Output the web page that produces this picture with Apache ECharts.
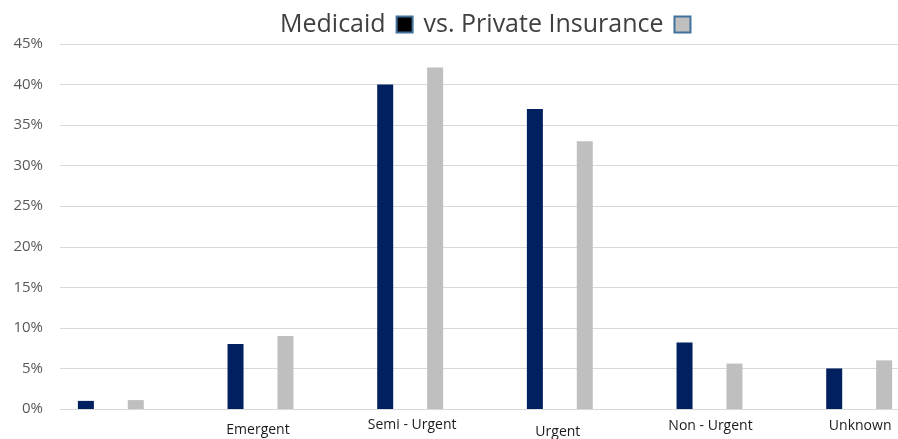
<!DOCTYPE html>
<html><head><meta charset="utf-8">
<script src="https://cdn.jsdelivr.net/npm/echarts@6/dist/echarts.min.js"></script>
<style>html,body{margin:0;padding:0;background:#fff}#c{width:898px;height:439px}</style>
</head><body><div id="c"></div>
<script>
const categories = ['', 'Emergent', 'Semi - Urgent', 'Urgent', 'Non - Urgent', 'Unknown'];
const medicaid = [1, 8, 40, 37, 8.2, 5];
const privateIns = [1.1, 9, 42.1, 33, 5.6, 6];
const yTicks = [0, 5, 10, 15, 20, 25, 30, 35, 40, 45];

const chart = echarts.init(document.getElementById('c'));
const labelStyle = {fontFamily: 'Open Sans', fontSize: 14, color: '#1a1a1a'};
chart.setOption({
  animation: false,
  title: {
    text: 'Medicaid{s|}{m|}{s|}vs. Private Insurance{s|}{p|}',
    left: 275, top: 7,
    textStyle: {
      fontFamily: 'Open Sans', fontSize: 25, fontWeight: 'normal', color: '#404040',
      rich: {
        s: {width: 12, height: 1},
        m: {width: 14, height: 14, backgroundColor: '#000', borderColor: '#41719C', borderWidth: 2, verticalAlign: 'middle'},
        p: {width: 14, height: 14, backgroundColor: '#BFBFBF', borderColor: '#41719C', borderWidth: 2, verticalAlign: 'middle'}
      }
    }
  },
  grid: [
    {left: 60, right: 0, top: 44, bottom: 30, outerBoundsMode: 'none', containLabel: false},
    {left: 36, width: 898, top: 44, bottom: 30, outerBoundsMode: 'none', containLabel: false}
  ],
  xAxis: [
    {gridIndex: 0, type: 'value', show: false},
    {gridIndex: 1, type: 'category', data: categories,
     axisLine: {show: false}, axisTick: {show: false},
     axisLabel: {
       margin: 0, interval: 0, hideOverlap: false,
       formatter: (v, i) => ['', '{a|' + v + '}', '{b|' + v + '}', '{c|' + v + '}', '{d|' + v + '}', '{e|' + v + '}'][i],
       rich: {
         a: Object.assign({}, labelStyle, {padding: [14, 5, 0, 0]}),
         b: Object.assign({}, labelStyle, {padding: [9, 0, 0, 4]}),
         c: Object.assign({}, labelStyle, {padding: [16, 4, 0, 0]}),
         d: Object.assign({}, labelStyle, {padding: [10, 0, 0, 2]}),
         e: Object.assign({}, labelStyle, {padding: [10, 0, 0, 2]})
       }
     }}
  ],
  yAxis: [
    {gridIndex: 0, type: 'value', min: 0, max: 45, interval: 5,
     axisLine: {show: false}, axisTick: {show: false},
     splitLine: {lineStyle: {color: '#D9D9D9', width: 1}},
     axisLabel: {formatter: v => yTicks.includes(v) ? v + '%' : '', fontFamily: 'Open Sans', fontSize: 15, color: '#595959', margin: 17}},
    {gridIndex: 1, type: 'value', min: 0, max: 45, interval: 5, show: false, splitLine: {show: false}}
  ],
  series: [
    {name: 'Medicaid', type: 'bar', xAxisIndex: 1, yAxisIndex: 1, data: medicaid,
     barWidth: 16, barGap: '212%', itemStyle: {color: '#002060'}},
    {name: 'Private Insurance', type: 'bar', xAxisIndex: 1, yAxisIndex: 1, data: privateIns,
     barWidth: 16, itemStyle: {color: '#BFBFBF'}}
  ]
});
</script></body></html>
